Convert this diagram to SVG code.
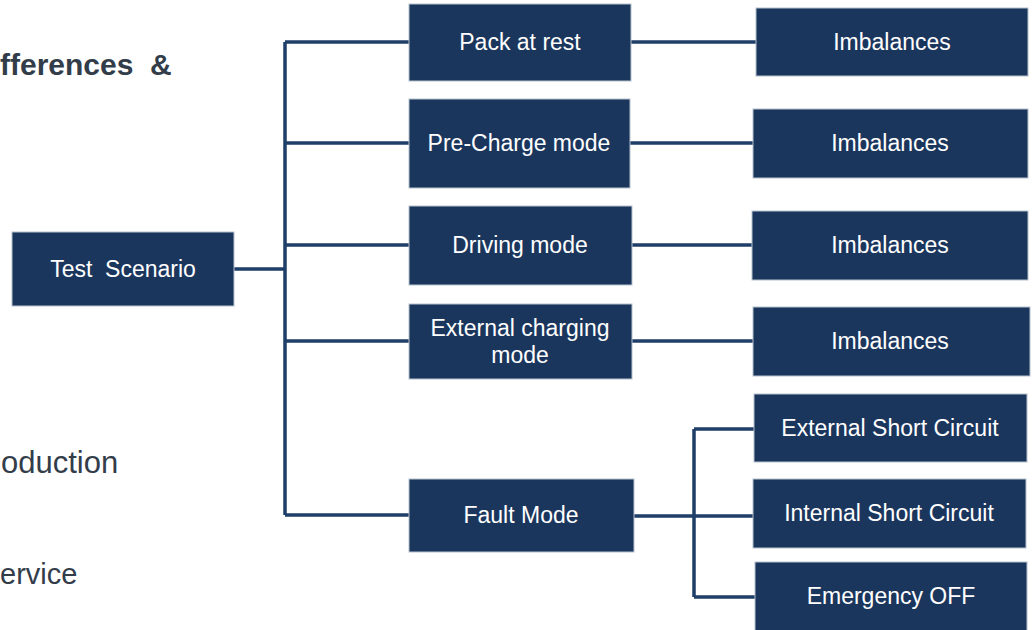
<svg xmlns="http://www.w3.org/2000/svg" width="1033" height="630" viewBox="0 0 1033 630">
<style>
.n{fill:#1b365d;stroke:#b8c2d0;stroke-width:1}
.t{font-family:"Liberation Sans",Arial,sans-serif;font-size:23px;fill:#ffffff;text-anchor:middle;dominant-baseline:central}
.c{fill:none;stroke:#1f3f68;stroke-width:3.5}
.bg{font-family:"Liberation Sans",Arial,sans-serif;fill:#333d4a}
</style>
<rect width="1033" height="630" fill="#ffffff"/>
<g id="background-text">
<text class="bg" x="0" y="75" font-size="30" font-weight="bold">fferences &#160;&amp;</text>
<text class="bg" x="1" y="473" font-size="31">oduction</text>
<text class="bg" x="0" y="584" font-size="29">ervice</text>
</g>
<g id="connectors">
<path class="c" d="M234 269H285M285 42V515M285 42H409M285 143H409M285 245H409M285 341H409M285 515H409"/>
<path class="c" d="M631 42H756M630 143H753M632 245H752M632 341H753"/>
<path class="c" d="M634 516H694M694 429V597M694 429H754M694 516H753M694 597H755"/>
</g>
<g id="test-scenario"><rect class="n" x="12" y="232" width="222" height="74"/><text class="t" x="123" y="269">Test&#160; Scenario</text></g>
<g id="pack-at-rest"><rect class="n" x="409" y="4" width="222" height="77"/><text class="t" x="520" y="42">Pack at rest</text></g>
<g id="pre-charge"><rect class="n" x="409" y="99" width="221" height="89"/><text class="t" x="519" y="143">Pre-Charge mode</text></g>
<g id="driving"><rect class="n" x="409" y="206" width="223" height="79"/><text class="t" x="520" y="245">Driving mode</text></g>
<g id="external-charging"><rect class="n" x="409" y="304" width="223" height="75"/><text class="t" x="520" y="328">External charging</text><text class="t" x="520" y="355">mode</text></g>
<g id="fault-mode"><rect class="n" x="409" y="479" width="225" height="73"/><text class="t" x="521" y="515">Fault Mode</text></g>
<g id="imbalances-1"><rect class="n" x="756" y="8" width="272" height="68"/><text class="t" x="892" y="42">Imbalances</text></g>
<g id="imbalances-2"><rect class="n" x="753" y="109" width="275" height="69"/><text class="t" x="890" y="143">Imbalances</text></g>
<g id="imbalances-3"><rect class="n" x="752" y="211" width="276" height="69"/><text class="t" x="890" y="245">Imbalances</text></g>
<g id="imbalances-4"><rect class="n" x="753" y="307" width="277" height="69"/><text class="t" x="890" y="341">Imbalances</text></g>
<g id="external-short"><rect class="n" x="754" y="394" width="273" height="68"/><text class="t" x="890" y="428">External Short Circuit</text></g>
<g id="internal-short"><rect class="n" x="753" y="479" width="273" height="69"/><text class="t" x="889" y="513">Internal Short Circuit</text></g>
<g id="emergency-off"><rect class="n" x="755" y="562" width="272" height="72"/><text class="t" x="891" y="596">Emergency OFF</text></g>
</svg>
